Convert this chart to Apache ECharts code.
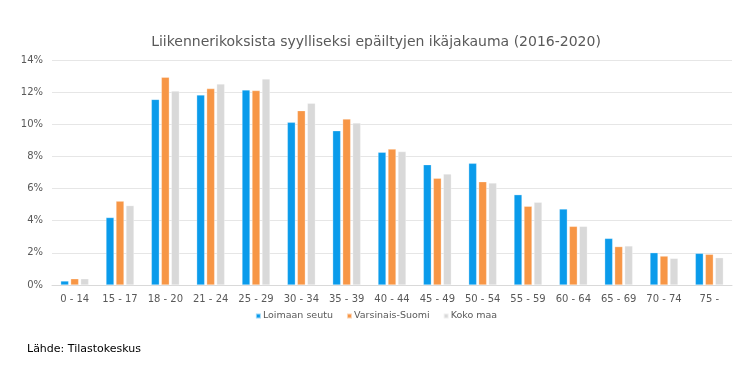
<!DOCTYPE html>
<html><head><meta charset="utf-8">
<script src="https://cdn.jsdelivr.net/npm/echarts@6/dist/echarts.min.js"></script>
<style>html,body{margin:0;padding:0;background:#fff}#c{width:752px;height:366px}</style>
</head><body><div id="c"></div>
<script>
const categories = ['0 - 14','15 - 17','18 - 20','21 - 24','25 - 29','30 - 34','35 - 39','40 - 44','45 - 49','50 - 54','55 - 59','60 - 64','65 - 69','70 - 74','75 -'];
const loimaa = [0.25,4.2,11.55,11.83,12.14,10.12,9.6,8.26,7.49,7.57,5.62,4.73,2.9,2.01,1.97];
const varsinais = [0.39,5.22,12.93,12.22,12.1,10.85,10.33,8.46,6.64,6.43,4.9,3.65,2.39,1.8,1.91];
const kokomaa = [0.39,4.94,12.07,12.51,12.82,11.31,10.08,8.3,6.91,6.35,5.15,3.65,2.43,1.66,1.7];
const seriesNames = ['Loimaan seutu','Varsinais-Suomi','Koko maa'];
const yTicks = {min:0, max:14, interval:2};

const chart = echarts.init(document.getElementById('c'));
const colors = ['#0A9BEB','#F79646','#D9D9D9'];
const font = 'DejaVu Sans';
const mk = (name, data, i) => ({
  name, type:'bar', data, barWidth:8, barGap:'25%',
  itemStyle:{color:colors[i], borderColor:'rgba(255,255,255,0.6)', borderWidth:0.5},
  emphasis:{disabled:true}
});
chart.setOption({
  animation:false,
  title:{text:'Liikennerikoksista syylliseksi epäiltyjen ikäjakauma (2016-2020)', left:'center', top:30,
    textStyle:{fontFamily:font, fontSize:14, fontWeight:'normal', color:'#595959'}},
  grid:{left:52, right:20, top:60, bottom:81},
  legend:{bottom:40, left:'center', itemWidth:5, itemHeight:5, itemGap:13, icon:'rect',
    textStyle:{fontFamily:font, fontSize:9.5, color:'#595959', padding:[0,0,0,-3]},
    data:seriesNames},
  xAxis:{type:'category', data:categories,
    axisLine:{lineStyle:{color:'#D9D9D9'}}, axisTick:{show:false},
    axisLabel:{fontFamily:font, fontSize:10, color:'#595959', margin:9, interval:0}},
  yAxis:{type:'value', min:yTicks.min, max:yTicks.max, interval:yTicks.interval,
    axisLine:{show:false}, axisTick:{show:false},
    splitLine:{lineStyle:{color:'#E6E6E6', width:1}},
    axisLabel:{fontFamily:font, fontSize:10, color:'#595959', margin:9, formatter:v=>v+'%'}},
  graphic:[{type:'text', left:27, top:344, style:{text:'Lähde: Tilastokeskus', font:'11px "DejaVu Sans"', fill:'#000'}}],
  series:[mk(seriesNames[0],loimaa,0), mk(seriesNames[1],varsinais,1), mk(seriesNames[2],kokomaa,2)]
});
</script></body></html>
